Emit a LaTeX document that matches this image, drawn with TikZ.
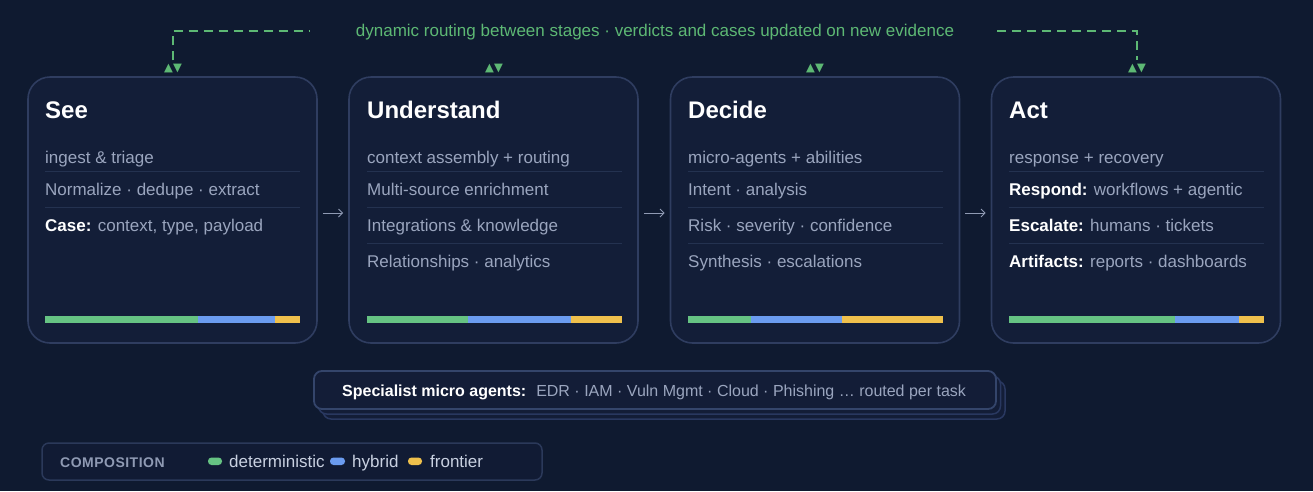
\documentclass[tikz,border=0pt]{standalone}
\usepackage{fontspec}
\setmainfont{Liberation Sans}
\newfontfamily\symfont{DejaVu Sans}
\usetikzlibrary{arrows.meta,calc}
\definecolor{bg}{HTML}{0F1A30}
\definecolor{cardfill}{HTML}{131E38}
\definecolor{cardline}{HTML}{2F3D60}
\definecolor{sepc}{HTML}{243250}
\definecolor{muted}{HTML}{9AA5BE}
\definecolor{arrowc}{HTML}{8F9AB3}
\definecolor{cgreen}{HTML}{66C383}
\definecolor{cblue}{HTML}{6B9CF0}
\definecolor{cyellow}{HTML}{EFC04C}
\definecolor{dgreen}{HTML}{5DB874}
\definecolor{boxfill}{HTML}{131D37}
\definecolor{boxline}{HTML}{34456B}
\definecolor{shadline}{HTML}{293860}
\definecolor{legfill}{HTML}{111B34}
\definecolor{legline}{HTML}{2B395A}
\definecolor{legtitle}{HTML}{8F9AB3}
\definecolor{legtext}{HTML}{C9D1E1}
\begin{document}
\begin{tikzpicture}[x=1pt,y=-1pt,
  card/.style={draw=cardline, line width=1.6pt, fill=cardfill, rounded corners=22pt,
    minimum width=289pt, minimum height=266pt, inner sep=0pt},
  ttl/.style={anchor=base west, inner sep=0pt, text=white, font=\fontsize{24}{28}\selectfont\bfseries},
  row/.style={anchor=base west, inner sep=0pt, text=muted, font=\fontsize{17}{20}\selectfont},
  sepl/.style={draw=sepc, line width=1pt},
  flow/.style={draw=arrowc, line width=1pt, -{Straight Barb[length=4pt,width=8pt]}},
  loopline/.style={draw=dgreen, line width=2pt, dash pattern=on 9pt off 6pt},
  mk/.style={text=dgreen, font=\symfont\fontsize{11.5}{12}\selectfont, inner sep=0pt},
  spbox/.style={draw=boxline, line width=1.8pt, fill=boxfill, rounded corners=8pt,
    minimum width=682pt, minimum height=38pt, inner sep=0pt},
  shbox/.style={draw=shadline, line width=1.5pt, fill=boxfill, rounded corners=8pt,
    minimum width=682pt, minimum height=38pt, inner sep=0pt},
  pill/.style={rounded corners=3.5pt, draw=none}
]
\useasboundingbox[fill=bg] (0,0) rectangle (1313,491);

% top label and loop
\node[text=dgreen, font=\fontsize{17}{20}\selectfont, inner sep=0pt] (lbl) at (655,32)
  {dynamic routing between stages · verdicts and cases updated on new evidence};

% cards
\node[card] (see) at (172.5,210) {};
\node[card] (und) at (493.5,210) {};
\node[card] (dec) at (815,210) {};
\node[card] (act) at (1136,210) {};

% markers
\node[mk] (mk1) at (173,69) {▲▼};
\node[mk] (mk2) at (494,69) {▲▼};
\node[mk] (mk3) at (815,69) {▲▼};
\node[mk] (mk4) at (1137,69) {▲▼};

\draw[loopline] ($(mk1.north)+(0,-4)$) |- ($(lbl.west)+(-47,-1)$);
\draw[loopline] ($(lbl.east)+(43,-1)$) -| ($(mk4.north)+(0,-4)$);

% flow arrows
\draw[flow] ($(see.east)+(5,3)$) -- ($(und.west)+(-5,3)$);
\draw[flow] ($(und.east)+(5,3)$) -- ($(dec.west)+(-5,3)$);
\draw[flow] ($(dec.east)+(5,3)$) -- ($(act.west)+(-5,3)$);

% See
\node[ttl] (see-t) at (45,118) {See};
\node[row] (see-1) at (45,163) {ingest \& triage};
\node[row] (see-2) at (45,195.5) {Normalize · dedupe · extract};
\node[row] (see-3) at (45,231.5) {\textcolor{white}{\bfseries Case:} context, type, payload};
\draw[sepl] (45,171.5) -- (300,171.5);
\draw[sepl] (45,207.5) -- (300,207.5);
\fill[cgreen] (45,316) rectangle (198,323);
\fill[cblue] (198,316) rectangle (275,323);
\fill[cyellow] (275,316) rectangle (300,323);

% Understand
\node[ttl] (und-t) at (367,118) {Understand};
\node[row] (und-1) at (367,163) {context assembly + routing};
\node[row] (und-2) at (367,195.5) {Multi-source enrichment};
\node[row] (und-3) at (367,231.5) {Integrations \& knowledge};
\node[row] (und-4) at (367,267.5) {Relationships · analytics};
\draw[sepl] (367,171.5) -- (622,171.5);
\draw[sepl] (367,207.5) -- (622,207.5);
\draw[sepl] (367,243.5) -- (622,243.5);
\fill[cgreen] (367,316) rectangle (468,323);
\fill[cblue] (468,316) rectangle (571,323);
\fill[cyellow] (571,316) rectangle (622,323);

% Decide
\node[ttl] (dec-t) at (688,118) {Decide};
\node[row] (dec-1) at (688,163) {micro-agents + abilities};
\node[row] (dec-2) at (688,195.5) {Intent · analysis};
\node[row] (dec-3) at (688,231.5) {Risk · severity · confidence};
\node[row] (dec-4) at (688,267.5) {Synthesis · escalations};
\draw[sepl] (688,171.5) -- (943,171.5);
\draw[sepl] (688,207.5) -- (943,207.5);
\draw[sepl] (688,243.5) -- (943,243.5);
\fill[cgreen] (688,316) rectangle (751,323);
\fill[cblue] (751,316) rectangle (842,323);
\fill[cyellow] (842,316) rectangle (943,323);

% Act
\node[ttl] (act-t) at (1009,118) {Act};
\node[row] (act-1) at (1009,163) {response + recovery};
\node[row] (act-2) at (1009,195.5) {\textcolor{white}{\bfseries Respond:} workflows + agentic};
\node[row] (act-3) at (1009,231.5) {\textcolor{white}{\bfseries Escalate:} humans · tickets};
\node[row] (act-4) at (1009,267.5) {\textcolor{white}{\bfseries Artifacts:} reports · dashboards};
\draw[sepl] (1009,171.5) -- (1264,171.5);
\draw[sepl] (1009,207.5) -- (1264,207.5);
\draw[sepl] (1009,243.5) -- (1264,243.5);
\fill[cgreen] (1009,316) rectangle (1175,323);
\fill[cblue] (1175,316) rectangle (1239,323);
\fill[cyellow] (1239,316) rectangle (1264,323);

% specialist box with stacked shadows
\node[shbox] (sh2) at (664,400) {};
\node[shbox] (sh1) at (659.5,395) {};
\node[spbox] (spec) at (655,390) {};
\node[anchor=base west, inner sep=0pt, font=\fontsize{16}{19}\selectfont, text=muted] (spec-t) at (342,396)
  {\textcolor{white}{\bfseries Specialist micro agents:}\hspace{10pt}EDR · IAM · Vuln Mgmt · Cloud · Phishing … routed per task};

% legend
\node[draw=legline, line width=1.5pt, fill=legfill, rounded corners=7pt,
  minimum width=500pt, minimum height=37pt, inner sep=0pt] (leg) at (292,461.5) {};
\node[anchor=base west, inner sep=0pt, text=legtitle,
  font=\fontsize{14}{16}\selectfont\bfseries\addfontfeatures{LetterSpace=3.5}] (leg-t) at (60,467) {COMPOSITION};
\fill[pill, cgreen] (208,457.5) rectangle (222,465);
\node[anchor=base west, inner sep=0pt, text=legtext, font=\fontsize{17}{20}\selectfont] (leg-1) at (229,467.5) {deterministic};
\fill[pill, cblue] (330,457.5) rectangle (345,465);
\node[anchor=base west, inner sep=0pt, text=legtext, font=\fontsize{17}{20}\selectfont] (leg-2) at (352,467.5) {hybrid};
\fill[pill, cyellow] (408,457.5) rectangle (422,465);
\node[anchor=base west, inner sep=0pt, text=legtext, font=\fontsize{17}{20}\selectfont] (leg-3) at (430,467.5) {frontier};
\end{tikzpicture}
\end{document}
